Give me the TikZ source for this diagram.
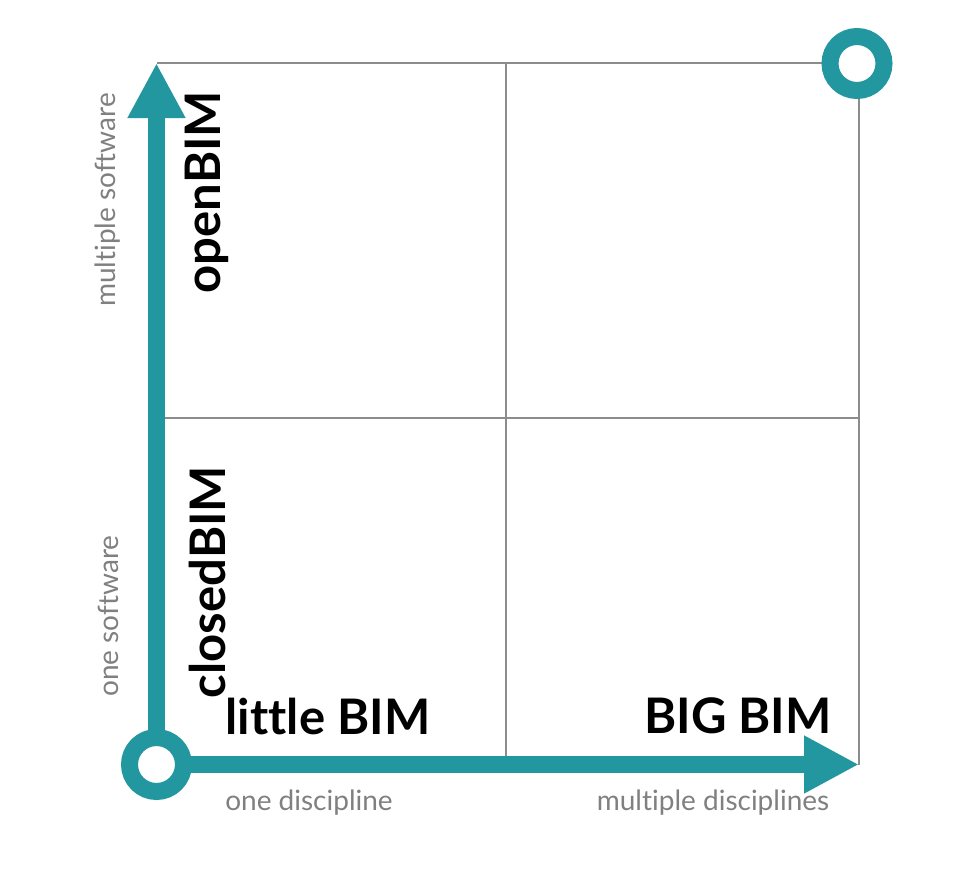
\documentclass[tikz,border=0pt]{standalone}
\usepackage{fontspec}
\setmainfont{Lato}[Ligatures={NoCommon}]
\usetikzlibrary{arrows.meta}
\definecolor{teal1}{HTML}{2397A0}
\definecolor{gridgray}{HTML}{8C8C8C}
\definecolor{labelgray}{HTML}{808080}
\begin{document}
\begin{tikzpicture}[x=1pt,y=-1pt,
  gridline/.style={draw=gridgray,line width=2pt},
  axis/.style={draw=teal1,line width=17pt,-{Triangle[length=55pt,width=54pt]}},
  ring/.style={draw=teal1,line width=17pt,fill=white},
  axislabel/.style={text=labelgray,font=\fontsize{28}{32}\selectfont,inner sep=0pt},
  quadlabel/.style={text=black,font=\fontsize{49}{54}\selectfont\bfseries,inner sep=0pt}]
\useasboundingbox (0,0) rectangle (978,886);
% grid
\coordinate (tl) at (157,63);
\coordinate (tr) at (859,63);
\coordinate (bl) at (157,765);
\coordinate (br) at (859,765);
\coordinate (tm) at (506,63);
\coordinate (bm) at (506,765);
\coordinate (lm) at (157,418);
\coordinate (rm) at (859,418);
\draw[gridline] (tl) -- (tr) -- (br);
\draw[gridline] (tm) -- (bm);
\draw[gridline] (lm) -- (rm);
% axes
\coordinate (o) at (156.5,764.5);
\coordinate (ytip) at (156.5,63);
\coordinate (xtip) at (859,764.5);
\draw[axis] (o) -- (ytip);
\draw[axis] (o) -- (xtip);
\node[ring,circle,minimum size=54pt,inner sep=0pt] (ringbl) at (o) {};
\node[ring,circle,minimum size=54pt,inner sep=0pt] (ringtr) at (857,63.5) {};
% labels
\node[axislabel,rotate=90] (ms) at (108,200) {multiple software};
\node[axislabel,rotate=90] (os) at (108,616) {one software};
\node[axislabel] (od) at (309,803) {one discipline};
\node[axislabel] (md) at (713,803) {multiple disciplines};
\node[quadlabel,rotate=90] (ob) at (207,192) {openBIM};
\node[quadlabel,rotate=90] (cb) at (207,582) {closedBIM};
\node[quadlabel] (lb) at (328,716) {little BIM};
\node[quadlabel] (bb) at (738,716) {BIG BIM};
\end{tikzpicture}
\end{document}
